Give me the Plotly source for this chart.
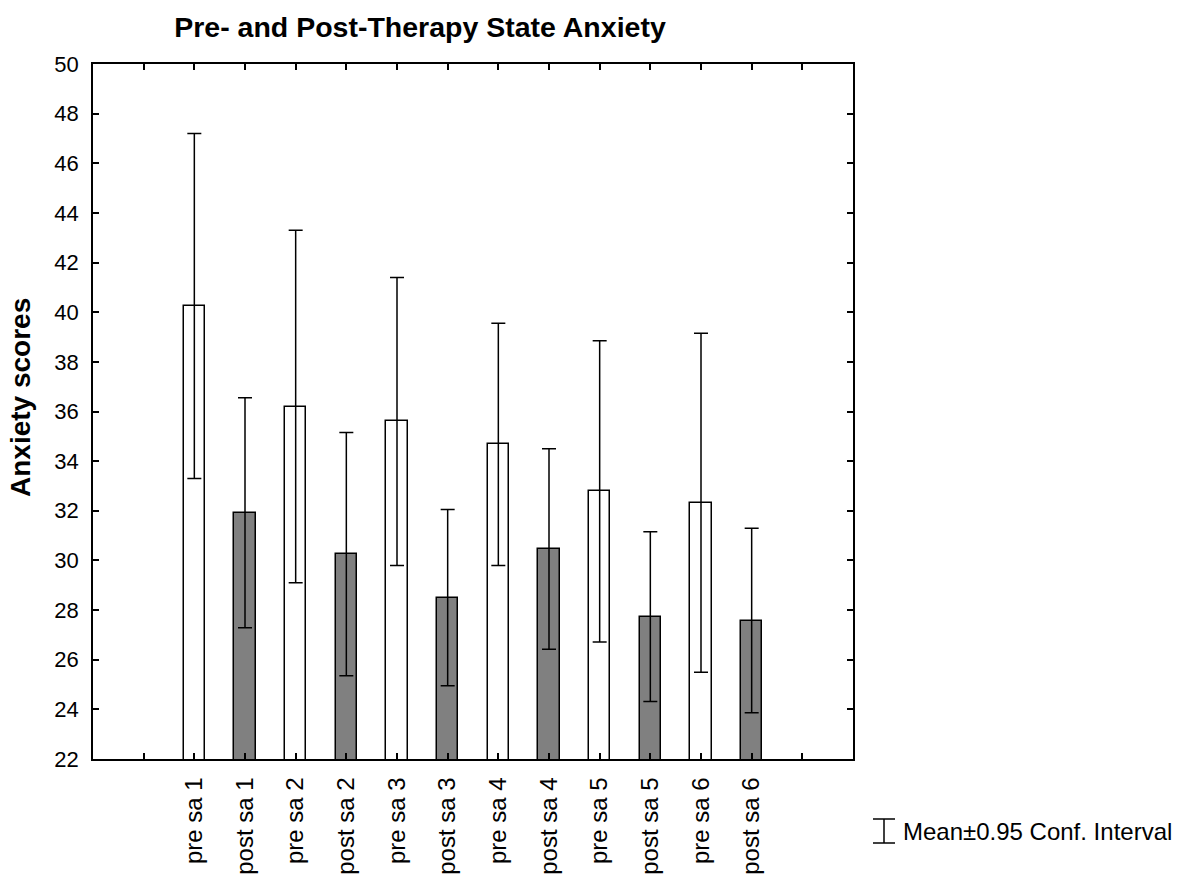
import plotly.graph_objects as go

categories = ["pre sa 1", "post sa 1", "pre sa 2", "post sa 2", "pre sa 3", "post sa 3",
              "pre sa 4", "post sa 4", "pre sa 5", "post sa 5", "pre sa 6", "post sa 6"]
means = [40.25, 31.92, 36.2, 30.25, 35.6, 28.5, 34.68, 30.46, 32.78, 27.74, 32.32, 27.58]
ci95 = [6.95, 4.63, 7.1, 4.9, 5.8, 3.55, 4.88, 4.04, 6.07, 3.42, 6.83, 3.72]
y_ticks = list(range(22, 51, 2))

W, H = 1183, 878
L, R, T, B = 93, 853, 64, 759  # plot area in pixels


def px_x(px):
    return (px - L) / (R - L)


def px_y(py):
    return (B - py) / (B - T)


xs = list(range(len(categories)))
pre_x = [x for x in xs if x % 2 == 0]
post_x = [x for x in xs if x % 2 == 1]

fig = go.Figure()
for idx, fill in [(pre_x, "white"), (post_x, "#808080")]:
    fig.add_trace(go.Bar(
        x=idx, y=[means[i] for i in idx], width=0.42,
        marker=dict(color=fill, line=dict(color="black", width=1.5)),
        error_y=dict(type="data", array=[ci95[i] for i in idx], color="black", thickness=1.5, width=7),
        showlegend=False))

font_family = "Liberation Sans, Arial, sans-serif"
fig.update_layout(
    width=W, height=H,
    margin=dict(l=L, r=W - R, t=T, b=H - B, autoexpand=False),
    paper_bgcolor="white", plot_bgcolor="white",
    font=dict(family=font_family, size=22, color="black"),
    title=dict(text="<b>Pre- and Post-Therapy State Anxiety</b>", x=420 / W, xanchor="center",
               y=1 - 27 / H, yanchor="middle", font=dict(size=28.5, family=font_family)),
    bargap=0,
)
fig.update_xaxes(
    range=[-2, 13], tickmode="array",
    tickvals=[-1] + xs + [12], ticktext=[""] + categories + [""],
    tickangle=-90, ticks="inside", ticklen=6, tickwidth=1.5, tickcolor="black",
    showline=True, linecolor="black", linewidth=1.5, mirror="ticks", ticklabelstandoff=7,
    showgrid=False, zeroline=False, tickfont=dict(size=24), automargin=False)
fig.update_yaxes(
    range=[22, 50], tickmode="array", tickvals=y_ticks,
    ticks="inside", ticklen=6, tickwidth=1.5, tickcolor="black",
    showline=True, linecolor="black", linewidth=1.5, mirror="ticks",
    showgrid=False, zeroline=False, tickfont=dict(size=22), automargin=False,
    ticklabelstandoff=8)

# y-axis title
fig.add_annotation(text="<b>Anxiety scores</b>", xref="paper", yref="paper",
                   x=px_x(20), y=px_y(398), xanchor="center", yanchor="middle",
                   textangle=-90, showarrow=False, font=dict(size=28))

# legend entry for error bars
lx0, lx1 = px_x(873), px_x(895)
ly_top, ly_bot = px_y(819), px_y(843)
lxm = (lx0 + lx1) / 2
for sh in [dict(x0=lx0, x1=lx1, y0=ly_top, y1=ly_top), dict(x0=lx0, x1=lx1, y0=ly_bot, y1=ly_bot),
           dict(x0=lxm, x1=lxm, y0=ly_top, y1=ly_bot)]:
    fig.add_shape(type="line", xref="paper", yref="paper", line=dict(color="black", width=1.5), **sh)
fig.add_annotation(text="Mean±0.95 Conf. Interval", xref="paper", yref="paper",
                   x=px_x(901), y=px_y(831), xanchor="left", yanchor="middle",
                   showarrow=False, font=dict(size=24))

fig.write_html("out.html", config={"displayModeBar": False},
               post_script="document.body.style.margin='0';")
